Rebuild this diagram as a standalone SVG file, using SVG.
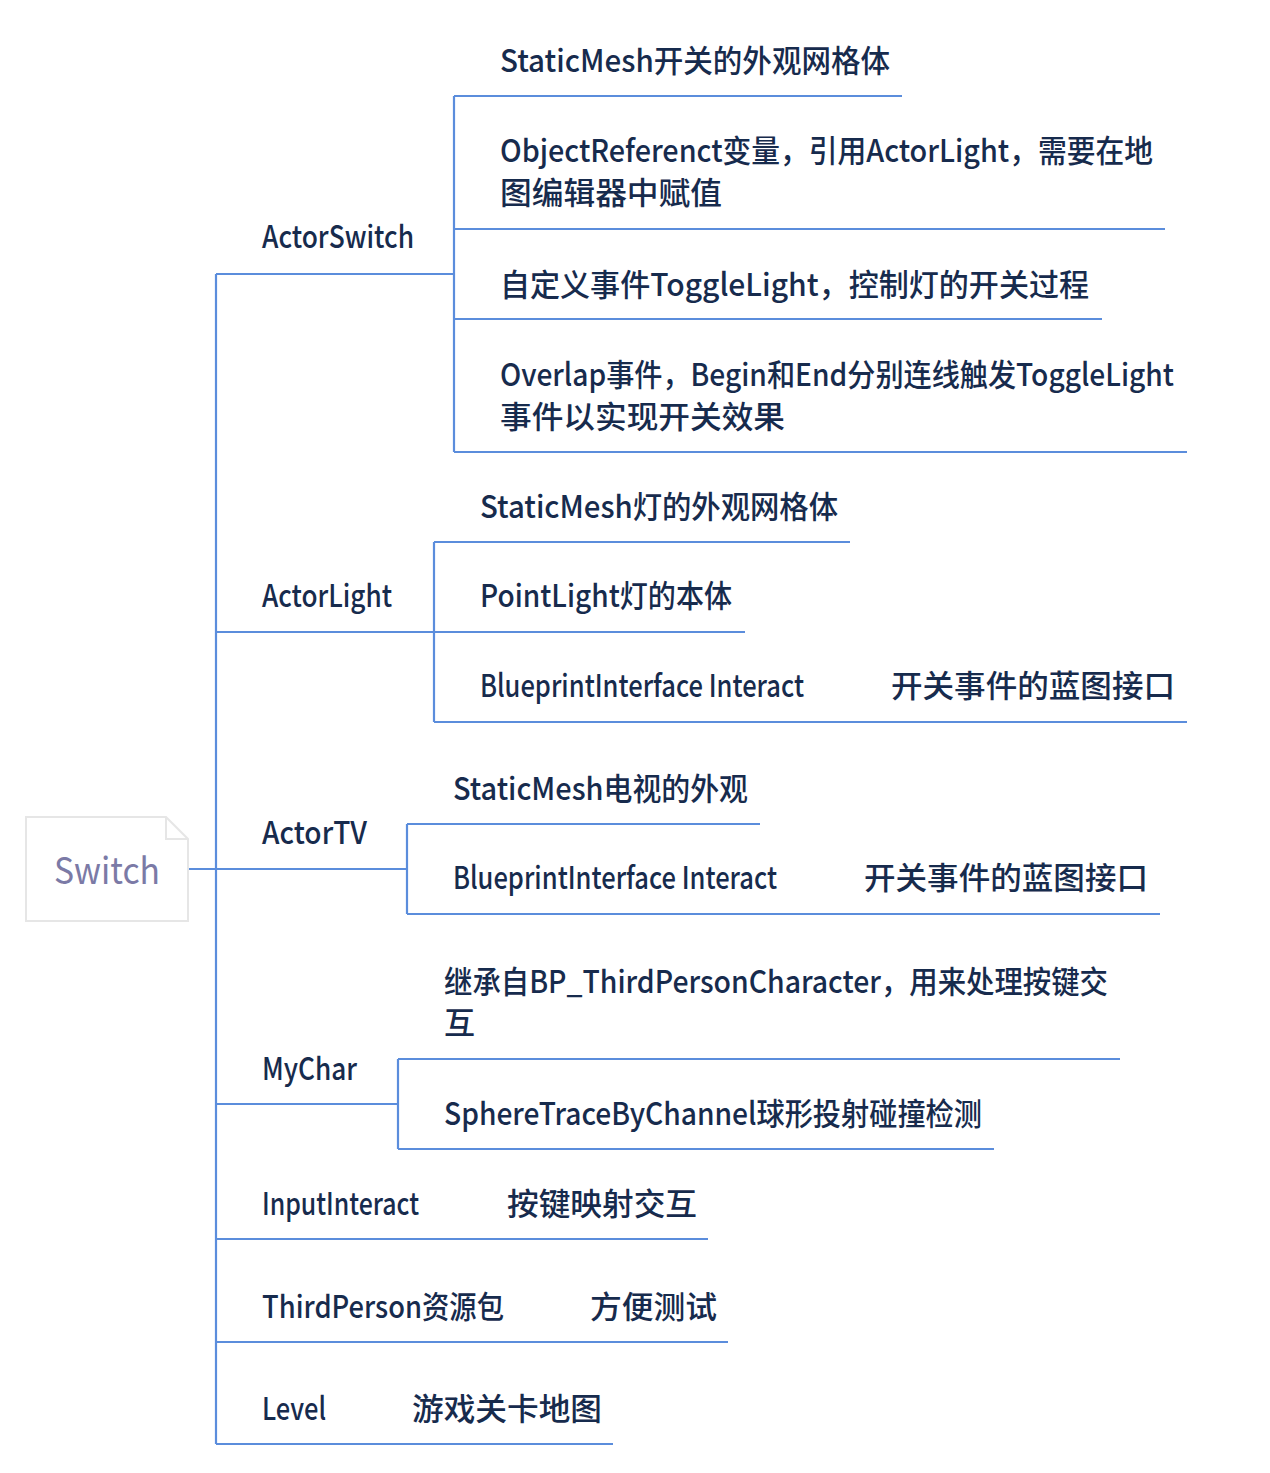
<svg xmlns="http://www.w3.org/2000/svg" width="1270" height="1473" viewBox="0 0 1270 1473">
<style>
text{font-family:"Noto Sans CJK SC","Noto Sans",sans-serif;font-size:31px;font-weight:500;fill:#172b4d}
.ln{stroke:#5b8ddc;stroke-width:2.2;fill:none}
.root{font-size:37px;font-weight:400;fill:#7b7aa6}
</style>
<rect width="1270" height="1473" fill="#ffffff"/>
<g id="connectors">
<path class="ln" d="M188 869H216M216 274V1444"/>
<path class="ln" d="M216 274H454M454 96V452M454 96H902M454 229H1165M454 319H1102M454 452H1187"/>
<path class="ln" d="M216 632H434M434 542V722M434 542H850M434 632H745M434 722H1187"/>
<path class="ln" d="M216 869H407M407 824V914M407 824H760M407 914H1160"/>
<path class="ln" d="M216 1104H398M398 1059V1149M398 1059H1120M398 1149H994"/>
<path class="ln" d="M216 1239H708M216 1342H728M216 1444H613"/>
</g>
<g id="root">
<path d="M26 817H166L188 839V921H26Z" fill="#fff" stroke="#e6e6e6" stroke-width="2"/>
<path d="M166 817V839H188" fill="none" stroke="#e6e6e6" stroke-width="2"/>
<text class="root" x="54" y="884" textLength="106" lengthAdjust="spacingAndGlyphs">Switch</text>
</g>
<g id="actorswitch"><text x="262" y="248" textLength="152" lengthAdjust="spacingAndGlyphs">ActorSwitch</text></g>
<g id="as1"><text x="500" y="72" textLength="390" lengthAdjust="spacingAndGlyphs">StaticMesh开关的外观网格体</text></g>
<g id="as2"><text x="500" y="162" textLength="653" lengthAdjust="spacingAndGlyphs">ObjectReferenct变量，引用ActorLight，需要在地</text><text x="500" y="204" textLength="222" lengthAdjust="spacingAndGlyphs">图编辑器中赋值</text></g>
<g id="as3"><text x="500" y="296" textLength="589" lengthAdjust="spacingAndGlyphs">自定义事件ToggleLight，控制灯的开关过程</text></g>
<g id="as4"><text x="500" y="386" textLength="674" lengthAdjust="spacingAndGlyphs">Overlap事件，Begin和End分别连线触发ToggleLight</text><text x="500" y="428" textLength="285" lengthAdjust="spacingAndGlyphs">事件以实现开关效果</text></g>
<g id="actorlight"><text x="262" y="607" textLength="130" lengthAdjust="spacingAndGlyphs">ActorLight</text></g>
<g id="al1"><text x="480" y="518" textLength="358" lengthAdjust="spacingAndGlyphs">StaticMesh灯的外观网格体</text></g>
<g id="al2"><text x="480" y="607" textLength="252" lengthAdjust="spacingAndGlyphs">PointLight灯的本体</text></g>
<g id="al3"><text x="480" y="697" textLength="324" lengthAdjust="spacingAndGlyphs">BlueprintInterface Interact</text><text x="891" y="697" textLength="284" lengthAdjust="spacingAndGlyphs">开关事件的蓝图接口</text></g>
<g id="actortv"><text x="262" y="844" textLength="105" lengthAdjust="spacingAndGlyphs">ActorTV</text></g>
<g id="tv1"><text x="453" y="800" textLength="295" lengthAdjust="spacingAndGlyphs">StaticMesh电视的外观</text></g>
<g id="tv2"><text x="453" y="889" textLength="324" lengthAdjust="spacingAndGlyphs">BlueprintInterface Interact</text><text x="864" y="889" textLength="284" lengthAdjust="spacingAndGlyphs">开关事件的蓝图接口</text></g>
<g id="mychar"><text x="262" y="1080" textLength="95" lengthAdjust="spacingAndGlyphs">MyChar</text></g>
<g id="mc1"><text x="444" y="993" textLength="664" lengthAdjust="spacingAndGlyphs">继承自BP_ThirdPersonCharacter，用来处理按键交</text><text x="444" y="1034">互</text></g>
<g id="mc2"><text x="444" y="1125" textLength="538" lengthAdjust="spacingAndGlyphs">SphereTraceByChannel球形投射碰撞检测</text></g>
<g id="inputinteract"><text x="262" y="1215" textLength="157" lengthAdjust="spacingAndGlyphs">InputInteract</text><text x="507" y="1215" textLength="190" lengthAdjust="spacingAndGlyphs">按键映射交互</text></g>
<g id="thirdperson"><text x="262" y="1318" textLength="242" lengthAdjust="spacingAndGlyphs">ThirdPerson资源包</text><text x="590" y="1318" textLength="127" lengthAdjust="spacingAndGlyphs">方便测试</text></g>
<g id="level"><text x="262" y="1420" textLength="64" lengthAdjust="spacingAndGlyphs">Level</text><text x="412" y="1420" textLength="190" lengthAdjust="spacingAndGlyphs">游戏关卡地图</text></g>
</svg>
